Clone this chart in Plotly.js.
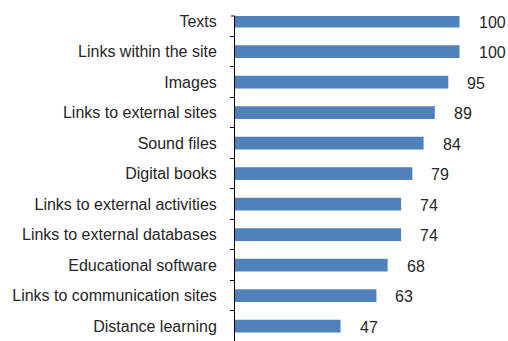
<!DOCTYPE html>
<html>
<head>
<meta charset="utf-8">
<script src="https://cdn.plot.ly/plotly-3.0.1.min.js"></script>
<style>html,body{margin:0;padding:0;background:#fff}#chart{width:508px;height:341px}</style>
</head>
<body>
<div id="chart"></div>
<script>
const categories = ["Distance learning","Links to communication sites","Educational software","Links to external databases","Links to external activities","Digital books","Sound files","Links to external sites","Images","Links within the site","Texts"];
const values = [47,63,68,74,74,79,84,89,95,100,100];
const valueLabels = values.map(String);

const FONT = "Liberation Sans, Arial, Helvetica, sans-serif";

const trace = {
  type: "bar",
  orientation: "h",
  y: categories,
  x: values,
  marker: {color: "#4f81bd"},
  hoverinfo: "skip"
};

const annotations = values.map((v, i) => ({
  x: v, y: categories[i], xref: "x", yref: "y",
  text: valueLabels[i], showarrow: false,
  xanchor: "left", yanchor: "middle", xshift: 17, yshift: -1,
  font: {family: FONT, size: 16, color: "#262626"}
}));

const layout = {
  width: 508, height: 341,
  margin: {l: 235, r: 0, t: 16, b: 0, pad: 0},
  paper_bgcolor: "#fff", plot_bgcolor: "#fff",
  showlegend: false,
  bargap: 0.58,
  font: {family: FONT, size: 16, color: "#262626"},
  xaxis: {range: [0, 121.6], visible: false, fixedrange: true},
  yaxis: {
    type: "category", range: [-0.49, 10.17],
    showline: true, linecolor: "#000", linewidth: 1,
    ticks: "outside", ticklen: 4, tickcolor: "#000", tickwidth: 1,
    tickson: "boundaries", showgrid: false, zeroline: false,
    ticklabelstandoff: 14,
    tickfont: {family: FONT, size: 16, color: "#262626"}
  },
  shapes: [{type: "line", xref: "paper", yref: "paper", xsizemode: "pixel", xanchor: 0, x0: -4, x1: 0, y0: 1, y1: 1, line: {color: "#000", width: 1}}],
  annotations: annotations
};

Plotly.newPlot("chart", [trace], layout, {displayModeBar: false, staticPlot: true});
</script>
</body>
</html>
